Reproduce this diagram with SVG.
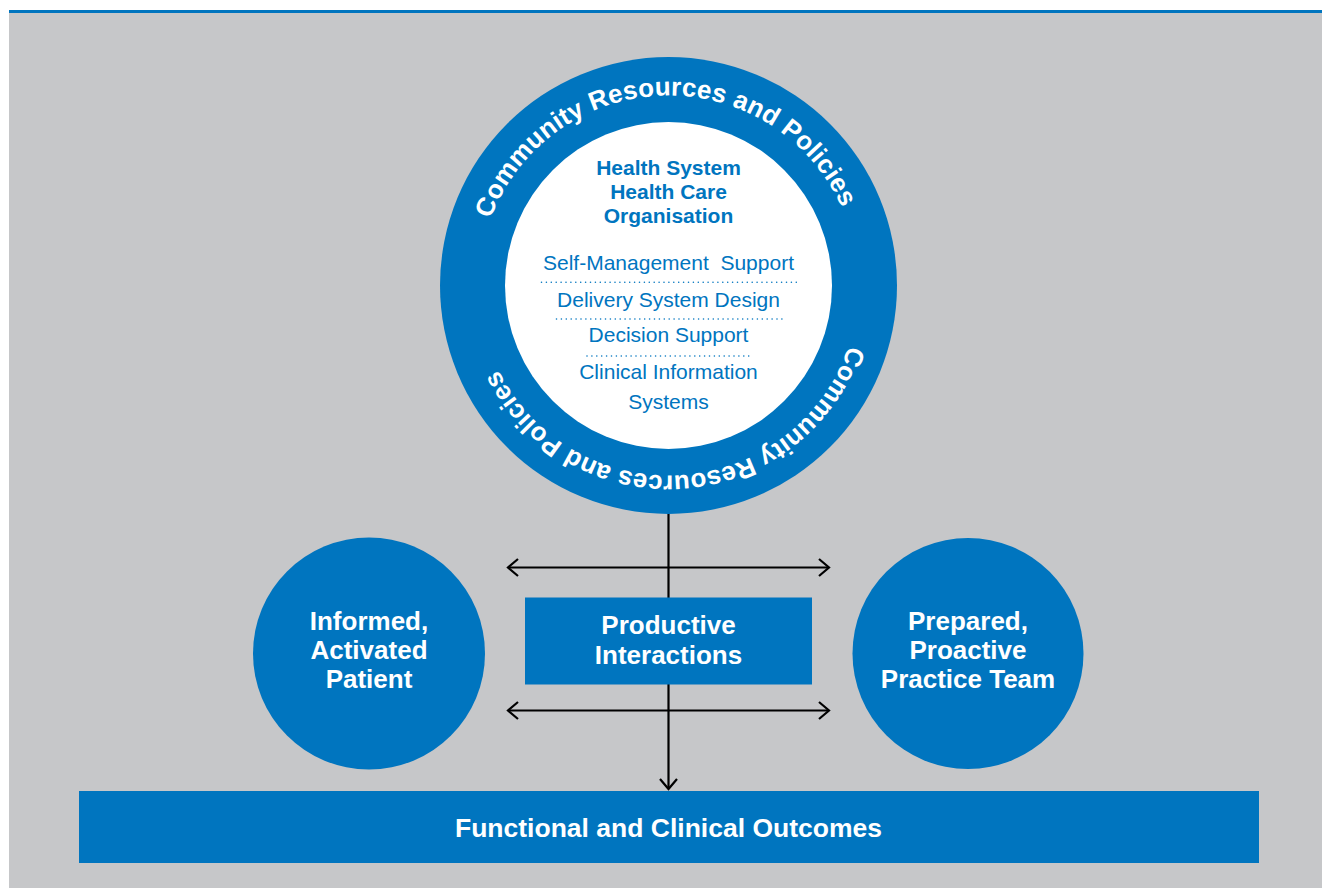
<svg xmlns="http://www.w3.org/2000/svg" width="1322" height="888" viewBox="0 0 1322 888">
<style>
.blue{fill:#0075bf}
.bold{font-family:"Liberation Sans",Arial,Helvetica,sans-serif;font-weight:bold}
.reg{font-family:"Liberation Sans",Arial,Helvetica,sans-serif}
.wt{fill:#ffffff}
.bt{fill:#0075bf}
.conn{stroke:#000;stroke-width:2.2;fill:none}
.dots{stroke:#0075bf;stroke-width:1.6;stroke-linecap:round;stroke-dasharray:0 4.9;fill:none}
</style>
<defs>
<marker id="arr" markerUnits="userSpaceOnUse" markerWidth="16" markerHeight="22" refX="12" refY="10" orient="auto-start-reverse">
<path d="M2,1.5 L12,10 L2,18.5" fill="none" stroke="#000" stroke-width="2.2"/>
</marker>
<path id="topArc" d="M478.5,285.5 A190,190 0 0 1 858.5,285.5"/>
<path id="botArc" d="M858.5,285.5 A190,190 0 0 1 478.5,285.5"/>
</defs>
<rect x="0" y="0" width="1322" height="888" fill="#ffffff"/>
<rect x="9" y="13" width="1313" height="875" fill="#c6c7c9"/>
<rect x="9" y="10" width="1313" height="3" class="blue"/>

<g id="connectors">
<line class="conn" x1="668.5" y1="510" x2="668.5" y2="789" marker-end="url(#arr)"/>
<line class="conn" x1="508" y1="567.5" x2="829" y2="567.5" marker-start="url(#arr)" marker-end="url(#arr)"/>
<line class="conn" x1="508" y1="710.5" x2="829" y2="710.5" marker-start="url(#arr)" marker-end="url(#arr)"/>
</g>

<g id="community">
<circle cx="668.5" cy="285.5" r="228.5" class="blue"/>
<text class="bold wt" font-size="26" letter-spacing="0.2"><textPath href="#topArc" startOffset="49%" text-anchor="middle">Community Resources and Policies</textPath></text>
<text class="bold wt" font-size="26" letter-spacing="0.2"><textPath href="#botArc" startOffset="47.8%" text-anchor="middle">Community Resources and Policies</textPath></text>
</g>

<g id="health-system">
<circle cx="668.5" cy="285.5" r="163.5" fill="#ffffff"/>
<text class="bold bt" font-size="21" text-anchor="middle" x="668.5" y="175">Health System</text>
<text class="bold bt" font-size="21" text-anchor="middle" x="668.5" y="199">Health Care</text>
<text class="bold bt" font-size="21" text-anchor="middle" x="668.5" y="222.5">Organisation</text>
<text class="reg bt" font-size="21" text-anchor="middle" x="668.5" y="270" xml:space="preserve">Self-Management  Support</text>
<line class="dots" x1="541.5" y1="282.3" x2="797" y2="282.3"/>
<text class="reg bt" font-size="21" text-anchor="middle" x="668.5" y="306.7">Delivery System Design</text>
<line class="dots" x1="556.5" y1="319" x2="783" y2="319"/>
<text class="reg bt" font-size="21" text-anchor="middle" x="668.5" y="342.3">Decision Support</text>
<line class="dots" x1="587" y1="356" x2="753" y2="356"/>
<text class="reg bt" font-size="21" text-anchor="middle" x="668.5" y="379.3">Clinical Information</text>
<text class="reg bt" font-size="21" text-anchor="middle" x="668.5" y="408.5">Systems</text>
</g>

<g id="patient">
<circle cx="369" cy="653.5" r="116" class="blue"/>
<text class="bold wt" font-size="26" text-anchor="middle"><tspan x="369" y="630">Informed,</tspan><tspan x="369" y="659">Activated</tspan><tspan x="369" y="688">Patient</tspan></text>
</g>

<g id="team">
<circle cx="968" cy="653.5" r="115.5" class="blue"/>
<text class="bold wt" font-size="26" text-anchor="middle"><tspan x="968" y="630">Prepared,</tspan><tspan x="968" y="659">Proactive</tspan><tspan x="968" y="688">Practice Team</tspan></text>
</g>

<g id="interactions">
<rect x="525" y="597.5" width="287" height="87" class="blue"/>
<text class="bold wt" font-size="26" text-anchor="middle"><tspan x="668.5" y="633.5">Productive</tspan><tspan x="668.5" y="664">Interactions</tspan></text>
</g>

<g id="outcomes">
<rect x="79" y="791" width="1180" height="72" class="blue"/>
<text class="bold wt" font-size="26.5" text-anchor="middle" x="668.5" y="836.5">Functional and Clinical Outcomes</text>
</g>
</svg>
